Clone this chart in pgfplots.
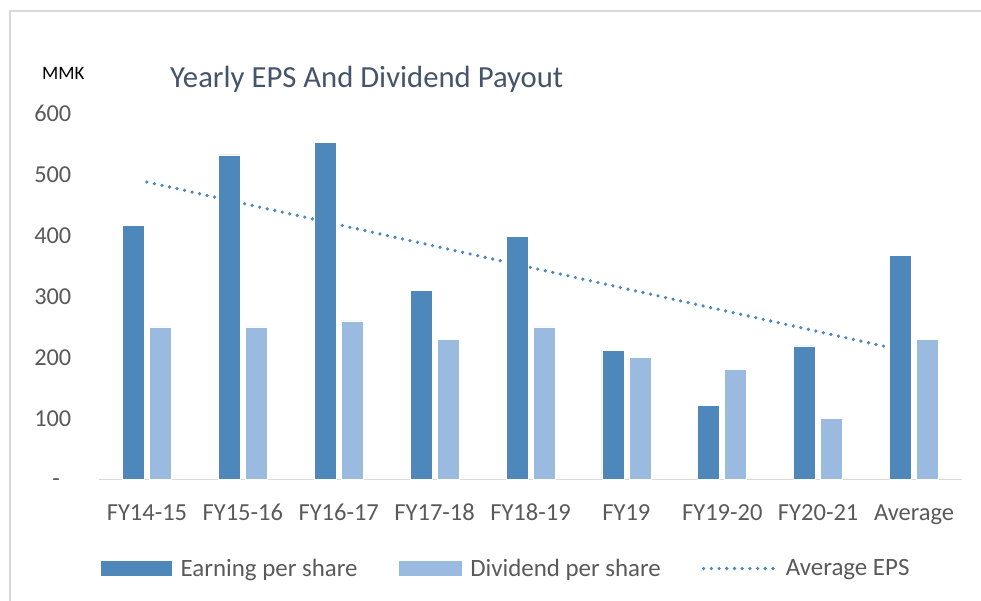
\documentclass[border=0pt]{standalone}
\usepackage{pgfplots}
\pgfplotsset{compat=1.18}
\usepackage{fontspec}
\setmainfont{Carlito}
\definecolor{eps}{HTML}{4E88BB}
\definecolor{div}{HTML}{9ABADF}
\definecolor{trend}{HTML}{4A86C0}
\definecolor{lab}{HTML}{595959}
\definecolor{ttl}{HTML}{44546A}
\definecolor{frame}{HTML}{D9D9D9}
\begin{document}
\begin{tikzpicture}
\path[use as bounding box] (0pt,0pt) rectangle (981pt,601pt);
\draw[frame, line width=2pt] (9.5pt,-5pt) -- (9.5pt,590pt) -- (990pt,590pt);
\node[anchor=base west, text=ttl, inner sep=0pt, font=\fontsize{30.7}{36}\selectfont] at (170pt,513.5pt) {Yearly EPS And Dividend Payout};
\node[anchor=base west, inner sep=0pt, font=\fontsize{19}{22}\selectfont] at (42pt,521.7pt) {MMK};
\begin{axis}[
  at={(99pt,121.5pt)}, anchor=south west, scale only axis,
  width=863pt, height=366pt,
  xmin=-0.5, xmax=8.5, ymin=0, ymax=600,
  axis x line*=bottom, axis y line*=left,
  x axis line style={draw=frame, line width=1.5pt},
  y axis line style={draw=none},
  major tick length=0pt,
  xtick={0,...,8},
  xticklabels={FY14-15,FY15-16,FY16-17,FY17-18,FY18-19,FY19,FY19-20,FY20-21,Average},
  ytick={100,200,...,600},
  yticklabels={100,200,300,400,500,600},
  xticklabel style={anchor=base, yshift=-41.5pt, inner sep=0pt, text=lab, font=\fontsize{24.5}{28}\selectfont},
  yticklabel style={anchor=east, xshift=-27.5pt, inner sep=0pt, text=lab, font=\fontsize{24.3}{28}\selectfont},
  clip=false,
  legend columns=3,
  legend style={at={(0.0023,-0.2432)}, anchor=west, draw=none, fill=none, inner sep=0pt, outer sep=0pt,
    font=\fontsize{24.9}{28}\selectfont, text=lab,
    nodes={inner sep=0pt},
    /tikz/every odd column/.append style={column sep=9pt},
    /tikz/every even column/.append style={column sep=41pt}},
]
\addplot[forget plot, trend, line width=3.6pt, line cap=round, dash pattern=on 0pt off 7.7pt, no markers]
  coordinates {(0,487.7) (7.9,211.0)};
\addplot[ybar, bar width=22pt, bar shift=-13.5pt, fill=eps, draw=white, line width=0.75pt,
  legend image code/.code={\fill[eps] (0pt,-7pt) rectangle (70pt,7pt);}]
  coordinates {(0,417) (1,532) (2,553) (3,310) (4,398) (5,211) (6,121) (7,219) (8,367)};
\addlegendentry{Earning per share}
\addplot[ybar, bar width=22pt, bar shift=13.5pt, fill=div, draw=white, line width=0.75pt,
  legend image code/.code={\fill[div] (0pt,-7pt) rectangle (62pt,7pt);}]
  coordinates {(0,250) (1,250) (2,260) (3,230) (4,250) (5,200) (6,180) (7,100) (8,229)};
\addlegendentry{Dividend per share}
\addlegendimage{legend image code/.code={\draw[trend, line width=3.6pt, line cap=round, dash pattern=on 0pt off 7.7pt] (1.5pt,0pt) -- (73pt,0pt);}}
\addlegendentry{Average EPS}
\node[anchor=base, inner sep=0pt, text=lab, font=\fontsize{24.3}{28}\selectfont, xshift=-43pt, yshift=-7pt] at (axis cs:-0.5,0) {-};
\end{axis}
\end{tikzpicture}
\end{document}
